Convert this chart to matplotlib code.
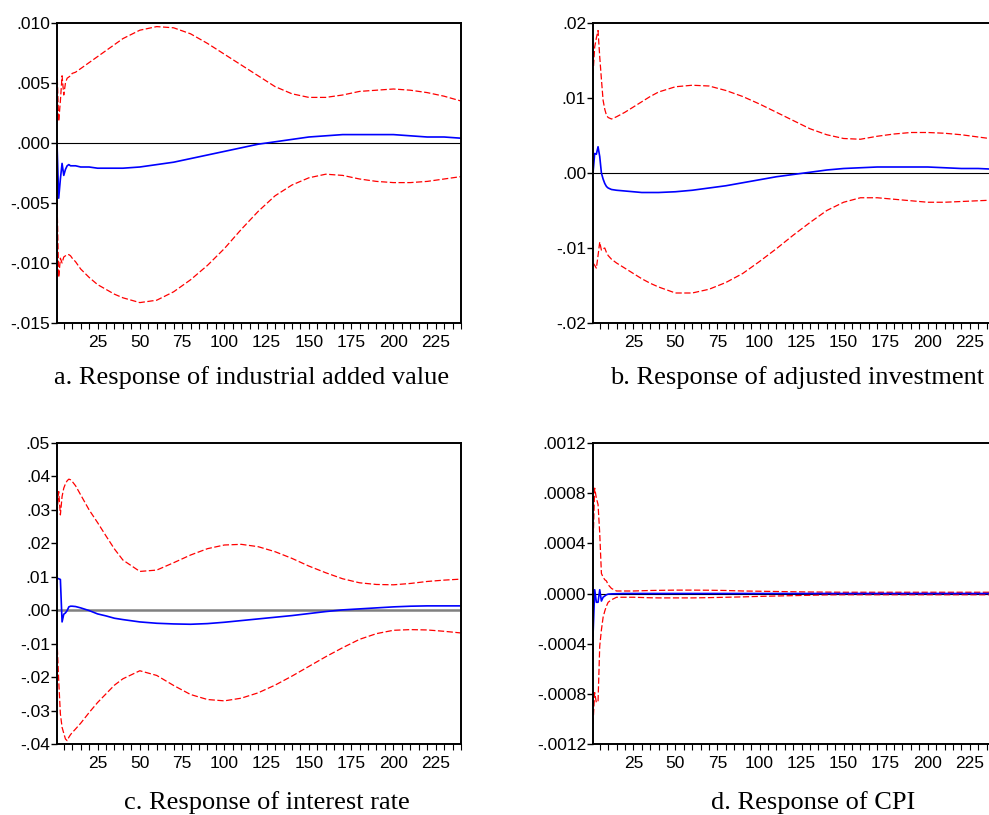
import matplotlib
matplotlib.use("Agg")
import matplotlib.pyplot as plt
from matplotlib.ticker import FixedLocator, MultipleLocator

# periodos muestreados (comunes a las cuatro graficas)
periods = [1, 2, 3, 4, 5, 6, 7, 8, 9, 10, 12, 15, 20, 25, 30, 35, 40, 50, 60, 70,
           80, 90, 100, 110, 120, 130, 140, 150, 160, 170, 180, 190, 200, 210,
           220, 230, 240]

# a. industrial added value
a_upper = [0.0061, 0.0018, 0.0035, 0.0056, 0.0040, 0.0050, 0.0054, 0.0055, 0.0056, 0.0058,
           0.0059, 0.0062, 0.0067, 0.0072, 0.0077, 0.0082, 0.0087, 0.0094, 0.0097, 0.0096,
           0.0091, 0.0083, 0.0074, 0.0065, 0.0056, 0.0047, 0.0041, 0.0038, 0.0038, 0.0040,
           0.0043, 0.0044, 0.0045, 0.0044, 0.0042, 0.0039, 0.0035]
a_irf = [0.0, -0.0046, -0.0030, -0.0017, -0.0027, -0.0022, -0.0019, -0.0018, -0.0019, -0.0019,
         -0.0019, -0.0020, -0.0020, -0.0021, -0.0021, -0.0021, -0.0021, -0.0020, -0.0018, -0.0016,
         -0.0013, -0.0010, -0.0007, -0.0004, -0.0001, 0.0001, 0.0003, 0.0005, 0.0006, 0.0007,
         0.0007, 0.0007, 0.0007, 0.0006, 0.0005, 0.0005, 0.0004]
a_lower = [-0.0047, -0.0112, -0.0096, -0.0100, -0.0095, -0.0094, -0.0093, -0.0093, -0.0094, -0.0096,
           -0.0099, -0.0105, -0.0112, -0.0118, -0.0122, -0.0126, -0.0129, -0.0133, -0.0131, -0.0124,
           -0.0114, -0.0102, -0.0088, -0.0072, -0.0057, -0.0044, -0.0035, -0.0029, -0.0026, -0.0027,
           -0.0030, -0.0032, -0.0033, -0.0033, -0.0032, -0.0030, -0.0028]

# b. adjusted investment
b_upper = [0.0131, 0.0168, 0.0180, 0.0190, 0.0155, 0.0125, 0.0097, 0.0085, 0.0077, 0.0074,
           0.0072, 0.0075, 0.0081, 0.0088, 0.0095, 0.0102, 0.0108, 0.0115, 0.0117, 0.0116,
           0.0110, 0.0102, 0.0092, 0.0081, 0.0070, 0.0059, 0.0051, 0.0046, 0.0045, 0.0049,
           0.0052, 0.0054, 0.0054, 0.0053, 0.0051, 0.0048, 0.0045]
b_irf = [0.0, 0.0026, 0.0025, 0.0035, 0.0022, 0.0000, -0.0008, -0.0014, -0.0018, -0.0020,
         -0.0022, -0.0023, -0.0024, -0.0025, -0.0026, -0.0026, -0.0026, -0.0025, -0.0023, -0.0020,
         -0.0017, -0.0013, -0.0009, -0.0005, -0.0002, 0.0001, 0.0004, 0.0006, 0.0007, 0.0008,
         0.0008, 0.0008, 0.0008, 0.0007, 0.0006, 0.0006, 0.0005]
b_lower = [-0.0120, -0.0123, -0.0127, -0.0110, -0.0092, -0.0103, -0.0101, -0.0100, -0.0106, -0.0110,
           -0.0115, -0.0120, -0.0127, -0.0134, -0.0141, -0.0147, -0.0152, -0.0160, -0.0160, -0.0155,
           -0.0146, -0.0134, -0.0118, -0.0101, -0.0083, -0.0066, -0.0050, -0.0039, -0.0033, -0.0033,
           -0.0035, -0.0037, -0.0039, -0.0039, -0.0038, -0.0037, -0.0036]

# c. interest rate
c_upper = [0.0290, 0.0355, 0.0285, 0.0340, 0.0365, 0.0378, 0.0387, 0.0392, 0.0390, 0.0385,
           0.0372, 0.0345, 0.0300, 0.0262, 0.0222, 0.0183, 0.0150, 0.0116, 0.0120, 0.0142,
           0.0165, 0.0184, 0.0195, 0.0197, 0.0190, 0.0175, 0.0155, 0.0132, 0.0112, 0.0094,
           0.0082, 0.0077, 0.0076, 0.0080, 0.0086, 0.0090, 0.0093]
c_irf = [0.0096, 0.0094, 0.0092, -0.0035, -0.0012, -0.0008, -0.0001, 0.0010, 0.0012, 0.0012,
         0.0011, 0.0007, -0.0001, -0.0011, -0.0017, -0.0024, -0.0028, -0.0035, -0.0039, -0.0041,
         -0.0042, -0.0040, -0.0036, -0.0031, -0.0026, -0.0021, -0.0016, -0.0010, -0.0004, 0.0001,
         0.0004, 0.0007, 0.0010, 0.0012, 0.0013, 0.0013, 0.0013]
c_lower = [-0.0088, -0.0210, -0.0310, -0.0350, -0.0368, -0.0385, -0.0390, -0.0380, -0.0372, -0.0366,
           -0.0355, -0.0338, -0.0306, -0.0276, -0.0250, -0.0224, -0.0205, -0.0181, -0.0195, -0.0225,
           -0.0252, -0.0267, -0.0271, -0.0263, -0.0247, -0.0224, -0.0197, -0.0168, -0.0139, -0.0112,
           -0.0087, -0.0070, -0.0060, -0.0058, -0.0059, -0.0063, -0.0068]

# d. CPI
d_upper = [0.00038, 0.00084, 0.00076, 0.00071, 0.00048, 0.00016, 0.00013, 0.00011, 0.00010, 0.00007,
           0.00004, 0.00002, 0.00002, 0.00002, 0.000022, 0.000024, 0.000025, 0.000027, 0.000027, 0.000026,
           0.000024, 0.00002, 0.000018, 0.000016, 0.000014, 0.000012, 0.000011, 0.00001, 0.00001, 0.00001,
           0.00001, 0.00001, 0.00001, 0.00001, 0.00001, 0.00001, 0.00001]
d_irf = [-0.00034, 0.00003, -0.00007, -0.00007, 0.00003, -0.00006, -0.00003, -0.00002, -0.00001, -0.000005,
         -0.000003, -0.000002, 0.0, 0.0, 0.0, 0.0, 0.0, 0.0, 0.0, 0.0,
         0.0, 0.0, 0.0, 0.0, 0.0, 0.0, 0.0, 0.0, 0.0, 0.0,
         0.0, 0.0, 0.0, 0.0, 0.0, 0.0, 0.0]
d_lower = [-0.00104, -0.00079, -0.00087, -0.00086, -0.00042, -0.00029, -0.00019, -0.00014, -0.00010, -0.00007,
           -0.00005, -0.00003, -0.00003, -0.00003, -0.000032, -0.000034, -0.000035, -0.000035, -0.000035, -0.000033,
           -0.00003, -0.000027, -0.000023, -0.00002, -0.000017, -0.000014, -0.000011, -0.00001, -0.00001, -0.00001,
           -0.00001, -0.00001, -0.00001, -0.00001, -0.00001, -0.00001, -0.00001]

# ejes y etiquetas
x_ticks = [25, 50, 75, 100, 125, 150, 175, 200, 225]
a_yticks = [-0.015, -0.010, -0.005, 0.0, 0.005, 0.010]
a_ylabels = ["-.015", "-.010", "-.005", ".000", ".005", ".010"]
b_yticks = [-0.02, -0.01, 0.0, 0.01, 0.02]
b_ylabels = ["-.02", "-.01", ".00", ".01", ".02"]
c_yticks = [-0.04, -0.03, -0.02, -0.01, 0.0, 0.01, 0.02, 0.03, 0.04, 0.05]
c_ylabels = ["-.04", "-.03", "-.02", "-.01", ".00", ".01", ".02", ".03", ".04", ".05"]
d_yticks = [-0.0012, -0.0008, -0.0004, 0.0, 0.0004, 0.0008, 0.0012]
d_ylabels = ["-.0012", "-.0008", "-.0004", ".0000", ".0004", ".0008", ".0012"]

captions = ["a. Response of industrial added value", "b. Response of adjusted investment",
            "c. Response of interest rate", "d. Response of CPI"]

W, H = 989, 815
fig = plt.figure(figsize=(W / 100, H / 100), dpi=100)
fig.patch.set_facecolor("white")


def px_axes(x0, y0, x1, y1):
    return fig.add_axes([x0 / W, 1 - y1 / H, (x1 - x0) / W, (y1 - y0) / H])


def draw_panel(ax, lower, irf, upper, yticks, ylabels, zero_style):
    ax.axhline(0, **zero_style)
    ax.plot(periods, upper, color="#ff0000", lw=0.9, ls=(0, (5, 2)))
    ax.plot(periods, lower, color="#ff0000", lw=0.9, ls=(0, (5, 2)))
    ax.plot(periods, irf, color="#0000ff", lw=1.2)
    ax.set_xlim(1, 240)
    ax.set_ylim(yticks[0], yticks[-1])
    ax.yaxis.set_major_locator(FixedLocator(yticks))
    ax.set_yticklabels(ylabels)
    ax.xaxis.set_major_locator(FixedLocator(x_ticks))
    ax.xaxis.set_minor_locator(MultipleLocator(5))
    ax.set_xticklabels([str(t) for t in x_ticks])
    for s in ax.spines.values():
        s.set_linewidth(1.4)
    ax.tick_params(axis="y", direction="out", length=4, width=1, pad=1,
                   labelsize=12.5, labelfontfamily="Liberation Sans")
    ax.tick_params(axis="x", which="both", direction="out", length=4, width=0.8, pad=5,
                   labelsize=12.5, labelfontfamily="Liberation Sans")


thin_zero = dict(color="black", lw=0.8)
gray_zero = dict(color="#808080", lw=1.8)

ax_a = px_axes(57, 23, 461, 323)
draw_panel(ax_a, a_lower, a_irf, a_upper, a_yticks, a_ylabels, thin_zero)
ax_b = px_axes(593, 23, 995, 323)
draw_panel(ax_b, b_lower, b_irf, b_upper, b_yticks, b_ylabels, thin_zero)
ax_c = px_axes(57, 443, 461, 744)
draw_panel(ax_c, c_lower, c_irf, c_upper, c_yticks, c_ylabels, gray_zero)
ax_d = px_axes(593, 443, 995, 744)
draw_panel(ax_d, d_lower, d_irf, d_upper, d_yticks, d_ylabels, thin_zero)

cap_pos = [(252, 378), (797, 378), (267, 803), (813, 803)]
for (cx, cy), txt in zip(cap_pos, captions):
    fig.text(cx / W, 1 - cy / H, txt, ha="center", va="center",
             fontsize=19, family="Liberation Serif")

fig.savefig("out.png", dpi=100)
